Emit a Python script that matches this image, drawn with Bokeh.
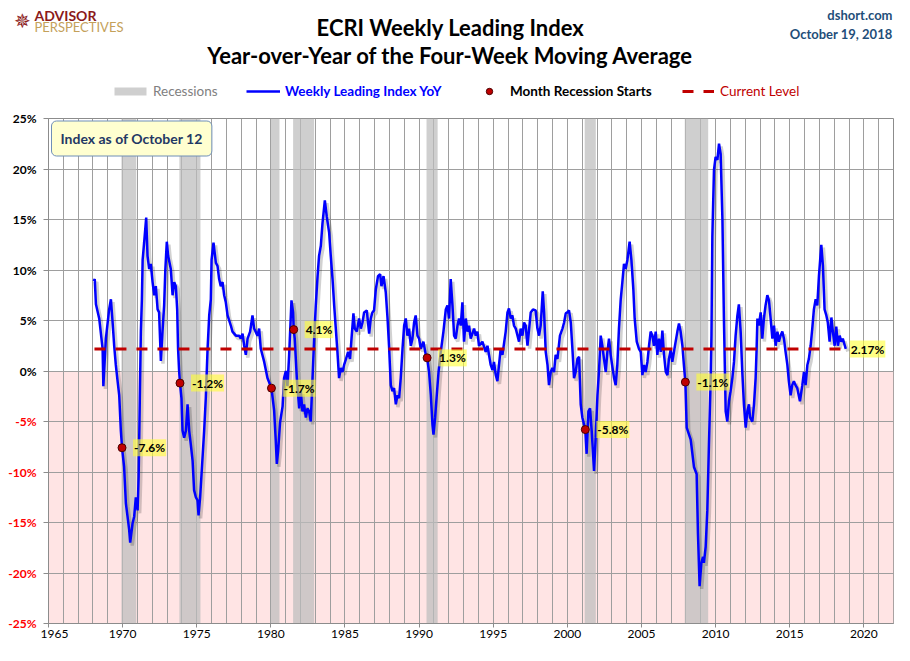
from bokeh.plotting import figure
from bokeh.layouts import column, row
from bokeh.models import (Range1d, FixedTicker, Label, Legend, LegendItem,
                          BoxAnnotation, ColumnDataSource)
from bokeh.transform import dodge
from bokeh.embed import file_html
from bokeh.resources import INLINE

# ---------------- data ----------------
years = [
    1968.05, 1968.12, 1968.20, 1968.42, 1968.65, 1968.70, 1968.87, 1969.09, 1969.21, 1969.32,
    1969.43, 1969.54, 1969.66, 1969.77, 1969.88, 1969.96, 1970.10, 1970.22, 1970.33, 1970.44,
    1970.51, 1970.67, 1970.78, 1970.89, 1971.01, 1971.08, 1971.16, 1971.23, 1971.30, 1971.35,
    1971.45, 1971.59, 1971.68, 1971.79, 1971.90, 1972.02, 1972.13, 1972.24, 1972.36, 1972.46,
    1972.58, 1972.69, 1972.80, 1972.88, 1972.98, 1973.07, 1973.25, 1973.37, 1973.48, 1973.59,
    1973.68, 1973.74, 1973.81, 1973.87, 1973.97, 1974.04, 1974.15, 1974.27, 1974.38, 1974.49,
    1974.60, 1974.72, 1974.82, 1974.94, 1975.05, 1975.12, 1975.23, 1975.34, 1975.50, 1975.61,
    1975.73, 1975.84, 1975.95, 1976.00, 1976.13, 1976.29, 1976.40, 1976.51, 1976.62, 1976.74,
    1976.85, 1976.96, 1977.08, 1977.30, 1977.41, 1977.64, 1977.86, 1977.97, 1978.09, 1978.20,
    1978.31, 1978.43, 1978.60, 1978.76, 1978.87, 1979.10, 1979.21, 1979.32, 1979.55, 1979.77,
    1980.04, 1980.22, 1980.33, 1980.40, 1980.49, 1980.62, 1980.79, 1980.89, 1981.01, 1981.12,
    1981.23, 1981.39, 1981.50, 1981.54, 1981.61, 1981.75, 1981.91, 1982.02, 1982.13, 1982.24,
    1982.36, 1982.47, 1982.58, 1982.69, 1982.81, 1982.92, 1983.03, 1983.15, 1983.25, 1983.37,
    1983.48, 1983.64, 1983.77, 1983.93, 1984.04, 1984.16, 1984.27, 1984.38, 1984.49, 1984.60,
    1984.72, 1984.83, 1984.94, 1985.05, 1985.21, 1985.34, 1985.44, 1985.57, 1985.66, 1985.80,
    1985.95, 1986.07, 1986.18, 1986.29, 1986.47, 1986.63, 1986.74, 1986.85, 1986.96, 1987.08,
    1987.23, 1987.37, 1987.46, 1987.60, 1987.75, 1987.87, 1987.97, 1988.09, 1988.20, 1988.31,
    1988.43, 1988.54, 1988.65, 1988.76, 1988.88, 1988.99, 1989.10, 1989.21, 1989.32, 1989.44,
    1989.55, 1989.66, 1989.77, 1989.89, 1990.00, 1990.11, 1990.29, 1990.45, 1990.54, 1990.67,
    1990.79, 1990.90, 1990.97, 1991.08, 1991.19, 1991.31, 1991.46, 1991.64, 1991.80, 1991.91,
    1992.02, 1992.13, 1992.25, 1992.36, 1992.47, 1992.59, 1992.69, 1992.81, 1992.92, 1993.03,
    1993.15, 1993.26, 1993.37, 1993.48, 1993.71, 1993.82, 1993.93, 1994.04, 1994.27, 1994.49,
    1994.61, 1994.83, 1994.95, 1995.05, 1995.17, 1995.28, 1995.39, 1995.50, 1995.62, 1995.84,
    1995.96, 1996.06, 1996.18, 1996.29, 1996.40, 1996.52, 1996.74, 1996.85, 1996.97, 1997.08,
    1997.19, 1997.31, 1997.53, 1997.68, 1997.86, 1997.98, 1998.09, 1998.20, 1998.34, 1998.43,
    1998.54, 1998.66, 1998.76, 1998.88, 1998.99, 1999.10, 1999.21, 1999.33, 1999.50, 1999.67,
    1999.78, 1999.89, 2000.00, 2000.11, 2000.23, 2000.34, 2000.45, 2000.56, 2000.68, 2000.79,
    2000.90, 2001.01, 2001.21, 2001.30, 2001.42, 2001.53, 2001.64, 2001.80, 2001.91, 2002.03,
    2002.13, 2002.25, 2002.36, 2002.47, 2002.59, 2002.70, 2002.81, 2002.92, 2003.15, 2003.26,
    2003.37, 2003.48, 2003.60, 2003.71, 2003.82, 2003.93, 2004.05, 2004.20, 2004.32, 2004.45,
    2004.54, 2004.68, 2004.83, 2004.95, 2005.06, 2005.17, 2005.28, 2005.40, 2005.51, 2005.62,
    2005.74, 2005.84, 2005.96, 2006.07, 2006.18, 2006.30, 2006.41, 2006.52, 2006.64, 2006.75,
    2006.85, 2006.97, 2007.08, 2007.19, 2007.42, 2007.53, 2007.64, 2007.76, 2007.86, 2007.96,
    2008.05, 2008.32, 2008.54, 2008.72, 2008.81, 2008.92, 2009.04, 2009.15, 2009.21, 2009.33,
    2009.44, 2009.55, 2009.67, 2009.72, 2009.78, 2009.89, 2010.00, 2010.12, 2010.23, 2010.34,
    2010.46, 2010.56, 2010.68, 2010.79, 2010.90, 2011.01, 2011.13, 2011.24, 2011.35, 2011.47,
    2011.57, 2011.69, 2011.80, 2011.91, 2012.03, 2012.14, 2012.25, 2012.32, 2012.48, 2012.59,
    2012.70, 2012.76, 2012.82, 2012.92, 2013.04, 2013.15, 2013.26, 2013.37, 2013.49, 2013.60,
    2013.71, 2013.83, 2013.94, 2014.05, 2014.17, 2014.27, 2014.38, 2014.50, 2014.61, 2014.72,
    2014.84, 2014.94, 2015.06, 2015.17, 2015.28, 2015.39, 2015.51, 2015.69, 2015.85, 2015.96,
    2016.07, 2016.19, 2016.29, 2016.41, 2016.52, 2016.63, 2016.75, 2016.86, 2016.97, 2017.13,
    2017.24, 2017.35, 2017.47, 2017.57, 2017.69, 2017.81, 2017.91, 2018.03, 2018.14, 2018.25,
    2018.37, 2018.48, 2018.58, 2018.72, 2018.78,
]
yoy = [
    8.9, 9.1, 6.6, 5.2, 2.2, -1.5, 3.2, 6.1, 7.1, 4.9,
    2.5, 0.6, -1.0, -2.4, -5.9, -7.6, -9.5, -13.1, -14.4, -15.7,
    -17.0, -15.1, -14.4, -12.5, -13.8, -10.5, -2.7, 3.9, 7.1, 11.0,
    12.7, 15.2, 11.4, 10.1, 10.6, 8.8, 7.5, 8.4, 6.1, 5.8,
    1.0, 3.9, 6.5, 10.0, 12.8, 11.4, 10.1, 7.5, 8.8, 8.4,
    6.1, 2.2, 0.0, -1.2, -2.7, -5.9, -6.6, -5.9, -3.3, -5.9,
    -7.3, -8.9, -11.8, -12.5, -12.8, -14.3, -12.5, -9.8, -5.9, -2.7,
    2.2, 5.5, 7.1, 11.0, 12.7, 10.7, 10.4, 9.1, 8.4, 8.8,
    7.5, 6.8, 5.5, 4.5, 3.9, 3.5, 3.5, 3.2, 3.7, 2.5,
    1.6, 3.2, 3.9, 5.5, 4.2, 3.5, 4.2, 2.2, 0.9, -0.7,
    -1.7, -3.9, -6.9, -9.2, -7.9, -5.1, -3.5, -0.7, 0.0, -1.5,
    1.5, 7.0, 5.8, 4.1, 3.2, -0.7, -3.7, -2.0, -4.0, -3.3,
    -4.6, -3.7, -4.0, -5.0, -0.7, 3.2, 6.5, 9.4, 11.4, 12.4,
    14.6, 16.9, 15.3, 13.7, 11.4, 9.1, 6.5, 4.2, 1.9, -0.7,
    0.3, -0.1, 0.6, 1.1, 1.9, 1.2, 3.2, 5.7, 4.2, 3.9,
    5.2, 4.2, 4.8, 5.8, 6.0, 3.7, 5.2, 5.8, 6.0, 8.1,
    9.4, 9.6, 8.4, 9.4, 7.8, 5.2, 2.5, -1.4, -2.0, -1.7,
    -3.3, -2.4, -2.7, -0.7, 2.2, 4.5, 5.2, 3.5, 4.2, 2.5,
    3.2, 4.8, 5.5, 3.5, 3.2, 2.2, 2.9, 1.6, 1.3, -0.1,
    -2.4, -5.3, -6.3, -4.6, -2.4, -0.1, 1.9, 3.9, 6.1, 6.5,
    5.2, 9.1, 6.5, 3.5, 3.2, 4.5, 5.2, 4.5, 6.8, 2.9,
    5.2, 3.9, 4.5, 3.2, 4.2, 3.5, 3.9, 2.5, 2.9, 1.9,
    2.5, 0.6, 0.1, 0.9, -0.4, -1.0, 0.6, 2.2, 1.6, 3.9,
    5.8, 6.2, 5.2, 5.5, 4.5, 4.2, 2.9, 4.2, 3.5, 4.8,
    4.5, 2.5, 5.8, 6.1, 6.0, 4.2, 3.5, 4.5, 7.9, 5.8,
    1.9, 0.6, -1.4, -0.1, 0.3, -0.1, 1.6, 1.2, 3.5, 4.2,
    4.8, 5.7, 5.8, 6.0, 4.8, 2.2, -0.7, -0.1, 1.2, 1.4,
    -3.3, -4.6, -5.8, -8.2, -4.0, -3.7, -5.9, -9.9, -6.6, -2.4,
    -0.1, 3.5, 2.5, 1.2, -0.1, 1.9, 3.2, 1.6, -0.7, -1.4,
    0.6, 4.2, 7.1, 8.8, 10.6, 10.1, 11.0, 12.8, 11.0, 8.1,
    5.2, 2.9, 2.2, 1.9, -0.4, 0.6, -0.1, 0.9, 2.5, 3.9,
    3.5, 2.5, 3.9, 1.6, 3.2, 1.9, 4.0, 1.6, -0.1, -0.4,
    1.2, 2.1, 0.9, 1.9, 3.9, 4.7, 3.9, 2.5, 0.6, -1.1,
    -5.6, -6.8, -9.5, -10.2, -16.1, -21.3, -19.0, -18.4, -19.0, -17.4,
    -13.8, -7.3, -0.7, 3.5, 13.3, 19.9, 21.2, 20.9, 22.5, 21.5,
    15.0, 5.2, -4.0, -5.0, -3.0, -2.0, -0.7, 0.9, 3.5, 5.5,
    6.6, 3.9, -0.1, -3.3, -5.6, -4.0, -3.3, -4.6, -5.0, -3.3,
    -0.7, 1.9, 5.2, 4.5, 5.8, 3.2, 5.2, 6.5, 7.5, 7.0,
    5.2, 3.2, 4.5, 2.5, 3.9, 2.9, 3.5, 3.9, 3.2, 1.9,
    0.6, -1.0, -2.4, -1.4, -1.0, -1.4, -1.7, -3.0, -1.4, -0.1,
    -1.4, 0.6, 1.2, 2.5, 4.2, 6.1, 7.1, 6.5, 9.4, 12.5,
    10.4, 6.1, 5.5, 4.8, 2.9, 5.3, 3.9, 2.5, 4.4, 2.5,
    3.5, 2.9, 3.2, 2.5, 2.2,
]

rec_start = [1969.92, 1973.83, 1980.00, 1981.50, 1990.50, 2001.17, 2007.92]
rec_end = [1970.92, 1975.25, 1980.58, 1982.92, 1991.25, 2001.92, 2009.50]

start_years = [1969.96, 1973.87, 1980.04, 1981.54, 1990.54, 2001.21, 2007.96]
start_vals = [-7.6, -1.2, -1.7, 4.1, 1.3, -5.8, -1.1]
start_labels = ["-7.6%", "-1.2%", "-1.7%", "4.1%", "1.3%", "-5.8%", "-1.1%"]

current_level = 2.17
current_label = "2.17%"
current_from = 1968.1
current_to = 2018.78

x_ticks = [1965, 1970, 1975, 1980, 1985, 1990, 1995, 2000, 2005, 2010, 2015, 2020]
x_minor = list(range(1965, 2023))
y_ticks = [-25, -20, -15, -10, -5, 0, 5, 10, 15, 20, 25]
x_lo, x_hi = 1965, 2022

FONT = "Lato"

# ---------------- layout sizes ----------------
W, H = 894, 645
HEAD_H = 108
BODY_H = H - HEAD_H
LAB_W = 40
MAIN_W = W - LAB_W
B_TOP, B_BOT, B_LEFT, B_RIGHT = 10, 22, 8, 1

# ---------------- header ----------------
head = figure(width=W, height=HEAD_H, x_range=Range1d(0, W), y_range=Range1d(0, HEAD_H),
              output_backend="svg", toolbar_location=None, x_axis_type=None,
              y_axis_type=None, min_border=0)
head.frame_align = False
head.outline_line_color = None
head.xgrid.visible = False
head.ygrid.visible = False

def hlabel(x, y, text, size, color, style="bold", align="left", font=FONT, **kw):
    head.add_layout(Label(x=x, y=HEAD_H - y, text=text, text_align=align,
                          text_baseline="middle", text_font=font, text_font_size=size,
                          text_font_style=style, text_color=color, **kw))

hlabel(450, 27, "ECRI Weekly Leading Index", "22px", "black", align="center")
hlabel(450, 55, "Year-over-Year of the Four-Week Moving Average", "22px", "black", align="center")
hlabel(892, 14, "dshort.com", "13px", "#1F4E79", align="right")
hlabel(892, 33, "October 19, 2018", "13px", "#1F4E79", align="right")
hlabel(34, 15, "ADVISOR", "14px", "#8B1A1A")
hlabel(34, 26, "PERSPECTIVES", "13px", "#C4A15A", style="normal")
hlabel(22, 20, "\u2735", "20px", "#8B1A1A", style="normal", align="center", font="DejaVu Sans")

# legend keys: styled renderers whose single point lies outside the header's view
off = [-50]
k_rec = head.quad(left=off, right=off, bottom=off, top=off, fill_color="#bdbdbd",
                  fill_alpha=0.72, line_color=None)
k_line = head.line(x=off, y=off, line_color="#0000FF", line_width=2.5)
k_dot = head.scatter(x=off, y=off, size=8, fill_color="#C00000", line_color="#4a0000")
k_cur = head.line(x=off, y=off, line_color="#C00000", line_width=3, line_dash="11 10")

def add_legend(label, rend, color, x, style, gw, gh, standoff):
    lg = Legend(items=[LegendItem(label=label, renderers=[rend])], location=(x, HEAD_H - 99),
                orientation="horizontal", glyph_width=gw, glyph_height=gh,
                label_standoff=standoff, padding=0, margin=0, spacing=0,
                border_line_color=None, background_fill_alpha=0,
                label_text_font=FONT, label_text_font_size="13.5px",
                label_text_font_style=style, label_text_color=color,
                label_height=gh)
    head.add_layout(lg)

add_legend("Recessions", k_rec, "#808080", 110, "normal", 40, 10, 3)
add_legend("Weekly Leading Index YoY", k_line, "#0000FF", 246, "bold", 34, 16, 5)
add_legend("Month Recession Starts", k_dot, "black", 473, "bold", 32, 16, 5)
add_legend("Current Level", k_cur, "#C00000", 682, "normal", 32, 16, 6)

# ---------------- main plot ----------------
p = figure(width=MAIN_W, height=BODY_H, x_range=Range1d(x_lo, x_hi),
           y_range=Range1d(y_ticks[0], y_ticks[-1]),
           output_backend="svg", toolbar_location=None,
           min_border_left=B_LEFT, min_border_right=B_RIGHT, min_border_top=B_TOP,
           min_border_bottom=B_BOT)
p.frame_align = False
p.outline_line_color = "#8c8c8c"
p.background_fill_color = "white"
p.border_fill_color = "white"

p.add_layout(BoxAnnotation(top=0, fill_color="#FFE4E4", fill_alpha=1.0,
                           line_color=None, level="image"))

p.xaxis.ticker = FixedTicker(ticks=x_ticks, minor_ticks=x_minor)
p.yaxis.ticker = FixedTicker(ticks=y_ticks, minor_ticks=[])
for ax in (p.xaxis[0], p.yaxis[0]):
    ax.axis_line_color = "#8c8c8c"
    ax.major_tick_line_color = "#8c8c8c"
    ax.major_tick_in = 0
    ax.major_tick_out = 5
    ax.minor_tick_in = 0
    ax.minor_tick_out = 0
    ax.major_label_text_font = FONT
    ax.major_label_text_font_size = "12px"
    ax.major_label_text_color = "black"
p.xaxis.major_tick_out = 4
p.xaxis.major_label_standoff = 2
p.yaxis.major_label_standoff = 0
p.yaxis.major_label_overrides = {t: "" for t in y_ticks}

p.xgrid.grid_line_color = "#9e9e9e"
p.xgrid.minor_grid_line_color = "#9e9e9e"
p.ygrid.grid_line_color = "#9e9e9e"

p.quad(left=rec_start, right=rec_end, bottom=y_ticks[0], top=y_ticks[-1],
       fill_color="#bdbdbd", fill_alpha=0.72, line_color=None)

src = ColumnDataSource(dict(x=years, y=yoy))
p.line(x=dodge("x", 0.14, range=p.x_range), y=dodge("y", -0.28, range=p.y_range),
       source=src, line_color="black", line_alpha=0.18, line_width=3.5)
p.line(x="x", y="y", source=src, line_color="#0000FF", line_width=2.5)

p.line([current_from, current_to], [current_level, current_level],
       line_color="#C00000", line_width=3, line_dash="11 10")
p.add_layout(Label(x=current_to, y=current_level, x_offset=4, text=current_label,
                   text_align="left", text_baseline="middle", text_font=FONT,
                   text_font_size="12px", text_font_style="bold", text_color="black",
                   background_fill_color="#FFFF33", background_fill_alpha=0.6,
                   padding=1))

p.scatter(start_years, start_vals, size=8, fill_color="#C00000",
          line_color="#4a0000", line_width=1)
for xv, yv, lab_txt in zip(start_years, start_vals, start_labels):
    p.add_layout(Label(x=xv, y=yv, x_offset=11, text=lab_txt, text_align="left",
                       text_baseline="middle", text_font=FONT, text_font_size="12px",
                       text_font_style="bold", text_color="black",
                       background_fill_color="#FFFF33", background_fill_alpha=0.6,
                       padding=1))

p.add_layout(Label(x=3, y=(BODY_H - B_BOT) - (138 - HEAD_H), x_units="screen",
                   y_units="screen", text="Index as of October 12", text_align="left",
                   text_baseline="middle", text_font=FONT, text_font_size="14px",
                   text_font_style="bold", text_color="#1F3864",
                   background_fill_color="#FFFFD0", background_fill_alpha=1.0,
                   border_line_color="#6f8fb8", border_line_width=1, padding=9,
                   border_radius=5))

# ---------------- y tick label strip ----------------
frame_h = BODY_H - B_TOP - B_BOT
per_px = (y_ticks[-1] - y_ticks[0]) / frame_h
lab = figure(width=LAB_W, height=BODY_H, x_range=Range1d(0, LAB_W),
             y_range=Range1d(y_ticks[0] - B_BOT * per_px, y_ticks[-1] + B_TOP * per_px),
             output_backend="svg", toolbar_location=None, x_axis_type=None,
             y_axis_type=None, min_border=0)
lab.frame_align = False
lab.outline_line_color = None
lab.xgrid.visible = False
lab.ygrid.visible = False
for t in y_ticks:
    lab.add_layout(Label(x=LAB_W - 4, y=t, text=f"{t}%", text_align="right",
                         text_baseline="middle", text_font=FONT, text_font_size="12px",
                         text_font_style="bold",
                         text_color="black" if t >= 0 else "#FF0000"))

layout = column(head, row(lab, p, spacing=0), spacing=0)
open("out.html", "w").write(file_html(layout, INLINE))
